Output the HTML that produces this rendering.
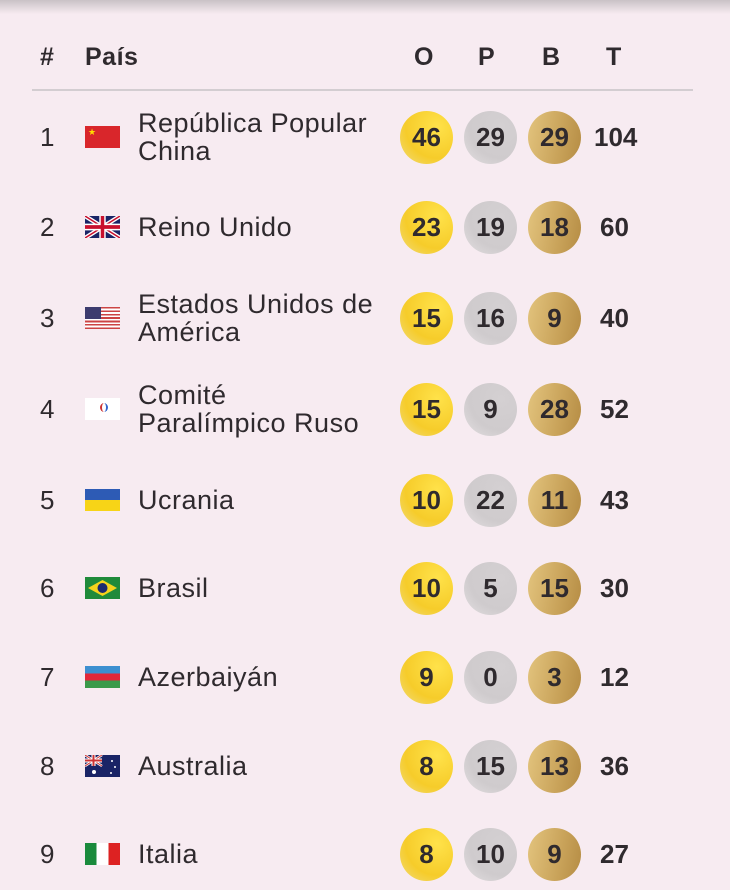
<!DOCTYPE html>
<html><head><meta charset="utf-8"><style>
body{margin:0;width:730px;height:890px;overflow:hidden;background:#f7ebf1;font-family:"Liberation Sans",sans-serif;color:#2f2a2e;position:relative}
.sh{position:absolute;left:0;top:0;width:730px;height:14px;background:linear-gradient(#c9c2c6,#f7ebf1)}
.h{position:absolute;top:43px;font-weight:bold;font-size:25px}
.line{position:absolute;left:32px;top:89px;width:661px;height:2px;background:#d3cdd1}
.r{position:absolute;left:0;width:730px;height:60px}
.n{position:absolute;left:40px;top:15px;font-size:26px}
.f{position:absolute;left:85px;top:19px;width:35px;height:22px;overflow:hidden}
.c{position:absolute;left:138px;font-size:27px;line-height:28px;white-space:nowrap;letter-spacing:0.5px}
.m{position:absolute;top:4px;width:53px;height:53px;border-radius:50%;font-weight:bold;font-size:26px;line-height:53px;text-align:center;color:#2f2a2e}
.g{left:400px;background:radial-gradient(circle at 70% 30%,#ffe24a,#f6cc2a 60%,#f0dc80)}
.s{left:464px;background:radial-gradient(circle at 70% 30%,#d4d0d2,#cfcbcd 60%,#e4e0e2)}
.b{left:528px;background:linear-gradient(100deg,#e3c47e,#c9a35a 60%,#b58c44)}
.t{position:absolute;left:594px;top:15px;font-weight:bold;font-size:26px}
</style></head><body>
<div class="sh"></div>
<div class="h" style="left:40px">#</div>
<div class="h" style="left:85px;letter-spacing:0.5px">País</div>
<div class="h" style="left:414px">O</div>
<div class="h" style="left:478px">P</div>
<div class="h" style="left:542px">B</div>
<div class="h" style="left:606px">T</div>
<div class="line"></div>

<div class="r" style="top:107px"><div class="n">1</div><div class="f" style="background:#d9262b"><span style="position:absolute;left:3px;top:1px;color:#fd0;font-size:9px">★</span></div><div class="c" style="top:2px">República Popular<br>China</div><div class="m g">46</div><div class="m s">29</div><div class="m b">29</div><div class="t">104</div></div>

<div class="r" style="top:197px"><div class="n">2</div><div class="f"><svg width="35" height="22" viewBox="0 0 60 36" preserveAspectRatio="none"><rect width="60" height="36" fill="#1a2466"/><path d="M0 0L60 36M60 0L0 36" stroke="#fff" stroke-width="7"/><path d="M0 0L60 36M60 0L0 36" stroke="#c8102e" stroke-width="2.5"/><path d="M30 0V36M0 18H60" stroke="#fff" stroke-width="11"/><path d="M30 0V36M0 18H60" stroke="#c8102e" stroke-width="6"/></svg></div><div class="c" style="top:16px">Reino Unido</div><div class="m g">23</div><div class="m s">19</div><div class="m b">18</div><div class="t" style="left:600px">60</div></div>

<div class="r" style="top:288px"><div class="n">3</div><div class="f" style="background:repeating-linear-gradient(#c44 0 1.7px,#fff 1.7px 3.4px)"><div style="width:16px;height:12px;background:#3c3b6e"></div></div><div class="c" style="top:2px">Estados Unidos de<br>América</div><div class="m g">15</div><div class="m s">16</div><div class="m b">9</div><div class="t" style="left:600px">40</div></div>

<div class="r" style="top:379px"><div class="n">4</div><div class="f" style="background:#fff"><div style="position:absolute;left:15px;top:5px;width:4px;height:9px;border-radius:50%;border-left:2px solid #c33;border-right:2px solid #36c"></div></div><div class="c" style="top:2px">Comité<br>Paralímpico Ruso</div><div class="m g">15</div><div class="m s">9</div><div class="m b">28</div><div class="t" style="left:600px">52</div></div>

<div class="r" style="top:470px"><div class="n">5</div><div class="f" style="background:linear-gradient(#2d5bb5 50%,#f7d417 50%)"></div><div class="c" style="top:16px">Ucrania</div><div class="m g">10</div><div class="m s">22</div><div class="m b">11</div><div class="t" style="left:600px">43</div></div>

<div class="r" style="top:558px"><div class="n">6</div><div class="f" style="background:#1f8a3a"><svg width="35" height="22"><polygon points="17.5,3 32,11 17.5,19 3,11" fill="#f5d31c"/><circle cx="17.5" cy="11" r="5" fill="#1c2a6e"/></svg></div><div class="c" style="top:16px">Brasil</div><div class="m g">10</div><div class="m s">5</div><div class="m b">15</div><div class="t" style="left:600px">30</div></div>

<div class="r" style="top:647px"><div class="n">7</div><div class="f" style="background:linear-gradient(#3d8fd0 33%,#e2273a 33% 67%,#3a9a4a 67%)"></div><div class="c" style="top:16px">Azerbaiyán</div><div class="m g">9</div><div class="m s">0</div><div class="m b">3</div><div class="t" style="left:600px">12</div></div>

<div class="r" style="top:736px"><div class="n">8</div><div class="f" style="background:#1a2466"><svg width="35" height="22"><rect width="17" height="11" fill="#1a2466"/><path d="M0 0L17 11M17 0L0 11" stroke="#fff" stroke-width="2.5"/><path d="M0 0L17 11M17 0L0 11" stroke="#c33" stroke-width="1"/><path d="M8.5 0V11M0 5.5H17" stroke="#fff" stroke-width="4"/><path d="M8.5 0V11M0 5.5H17" stroke="#c33" stroke-width="2"/><circle cx="9" cy="17" r="2" fill="#fff"/><circle cx="27" cy="6" r="1" fill="#fff"/><circle cx="30" cy="12" r="1" fill="#fff"/><circle cx="26" cy="18" r="1" fill="#fff"/></svg></div><div class="c" style="top:16px">Australia</div><div class="m g">8</div><div class="m s">15</div><div class="m b">13</div><div class="t" style="left:600px">36</div></div>

<div class="r" style="top:824px"><div class="n">9</div><div class="f" style="background:linear-gradient(90deg,#1a8a3c 33%,#fff 33% 67%,#d22 67%)"></div><div class="c" style="top:16px">Italia</div><div class="m g">8</div><div class="m s">10</div><div class="m b">9</div><div class="t" style="left:600px">27</div></div>
</body></html>
